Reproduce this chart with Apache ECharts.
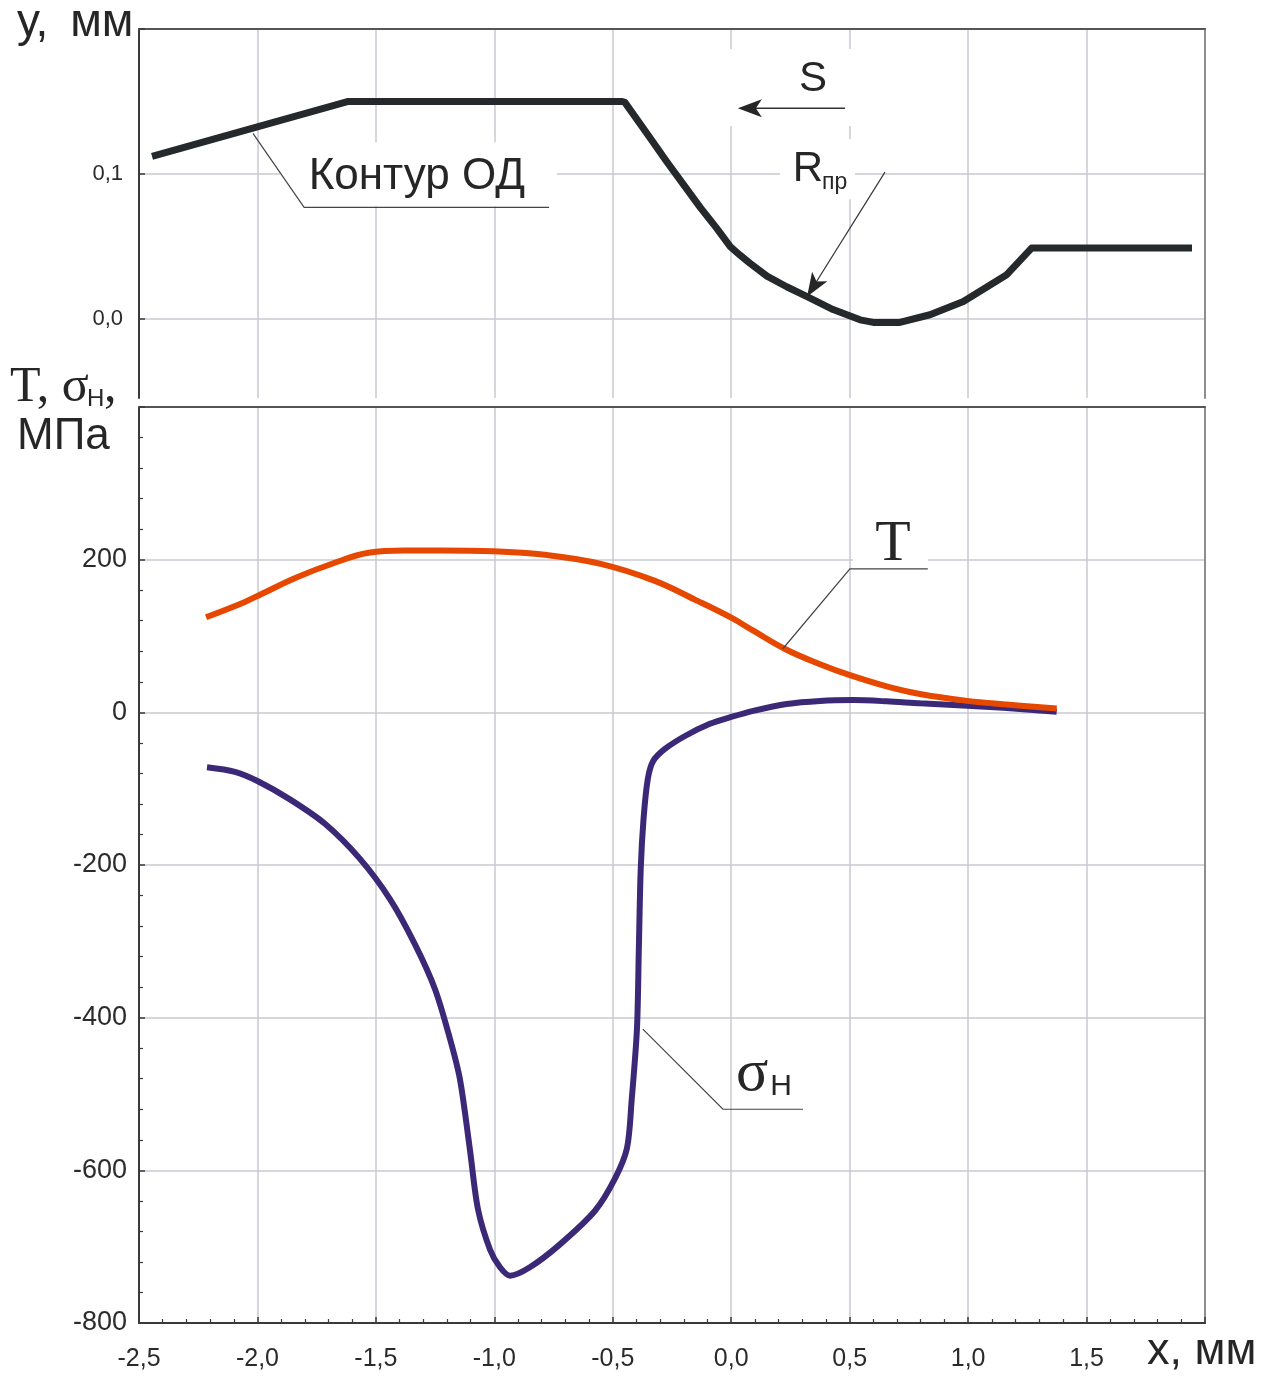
<!DOCTYPE html>
<html><head><meta charset="utf-8">
<script src="https://cdn.jsdelivr.net/npm/echarts@6/dist/echarts.min.js"></script>
<style>html,body{margin:0;padding:0;background:#fff}#c{width:1277px;height:1376px}</style>
</head><body><div id="c"></div>
<script>
// ---- data ----
const xTickValues = [-2.5, -2.0, -1.5, -1.0, -0.5, 0.0, 0.5, 1.0, 1.5, 2.0];
const yTopTickValues = [0, 0.1, 0.2];
const yTopLabelValues = [0, 0.1];
const yBottomLabelValues = [-800, -600, -400, -200, 0, 200];

const contourX = [-2.445, -1.62, -0.46, -0.449, -0.343, -0.272, -0.131, -0.061, -0.004, 0.038, 0.079, 0.151, 0.234, 0.318, 0.43, 0.544, 0.60, 0.712, 0.839, 0.98, 1.163, 1.268, 1.945];
const contourY = [0.1122, 0.150, 0.150, 0.1494, 0.1250, 0.1085, 0.0770, 0.0625, 0.0500, 0.0440, 0.0385, 0.0296, 0.0223, 0.0156, 0.0066, -0.0005, -0.0023, -0.0023, 0.003, 0.0122, 0.0306, 0.049, 0.049];

const tX = [-2.217, -2.058, -1.983, -1.833, -1.682, -1.531, -1.38, -1.229, -1.003, -0.777, -0.551, -0.325, -0.145, 0.0, 0.093, 0.227, 0.375, 0.498, 0.656, 0.797, 0.997, 1.149, 1.374];
const tY = [124.6, 144, 155, 177, 195, 209, 212, 212, 211, 206, 194.5, 172.6, 146.4, 124, 107, 83, 63, 49, 34, 24, 15, 10.5, 5];

const sX = [-2.213, -2.095, -2.0, -1.863, -1.715, -1.567, -1.44, -1.335, -1.25, -1.187, -1.145, -1.103, -1.069, -1.018, -0.976, -0.934, -0.85, -0.723, -0.575, -0.491, -0.44, -0.42, -0.398, -0.39, -0.382, -0.37, -0.352, -0.33, -0.28, -0.195, -0.09, 0.0, 0.093, 0.234, 0.375, 0.515, 0.656, 0.797, 0.997, 1.149, 1.374];
const sY = [-72, -78, -90, -114, -146, -192, -245, -304, -363, -428, -481, -573, -651, -704, -727, -738, -727, -697, -653, -611, -571, -507, -415, -310, -205, -139, -87, -64, -48, -31, -15, -6, 2, 11, 15, 16, 14.4, 11.8, 8.7, 6, 0.8];

const zip = (a, b) => a.map((v, i) => [v, b[i]]);
const comma = v => (Math.round(v * 10) / 10).toFixed(1).replace('.', ',');

const SANS = 'Liberation Sans';
const SERIF = 'Liberation Serif';
const GRID_C = '#c9c9d2';
const AXIS_C = '#3a3a3a';
const BORDER_C = '#8e8e8e';

const chart = echarts.init(document.getElementById('c'), null, {renderer: 'canvas'});

const splitLine = {show: true, lineStyle: {color: GRID_C, width: 1.5}};
const xBase = {type: 'value', min: -2.5, max: 2.0, interval: 0.5};

chart.setOption({
  animation: false,
  backgroundColor: '#fff',
  grid: [
    {left: 139, right: 72, top: 29, height: 369},
    {left: 139, right: 72, top: 407, height: 916}
  ],
  xAxis: [
    Object.assign({}, xBase, {gridIndex: 0, position: 'bottom', axisLine: {show: false}, axisTick: {show: false}, axisLabel: {show: false}, splitLine: splitLine}),
    Object.assign({}, xBase, {gridIndex: 0, position: 'top', axisLine: {show: true, onZero: false, lineStyle: {color: '#555', width: 2}}, axisTick: {show: false}, axisLabel: {show: false}, splitLine: {show: false}}),
    Object.assign({}, xBase, {gridIndex: 1, position: 'bottom',
      axisLine: {show: true, onZero: false, lineStyle: {color: AXIS_C, width: 2}},
      axisTick: {show: true, inside: true, length: 6, lineStyle: {color: AXIS_C, width: 1.5}},
      minorTick: {show: true, splitNumber: 5, length: 4, lineStyle: {color: AXIS_C, width: 1.2}},
      axisLabel: {show: true, margin: 24, fontFamily: SANS, fontSize: 25, color: '#2b2b2b', formatter: v => comma(v),
        customValues: xTickValues.slice(0, 9)},
      splitLine: splitLine}),
    Object.assign({}, xBase, {gridIndex: 1, position: 'top', axisLine: {show: true, onZero: false, lineStyle: {color: '#555', width: 2}}, axisTick: {show: false}, axisLabel: {show: false}, splitLine: {show: false}})
  ],
  yAxis: [
    {type: 'value', gridIndex: 0, min: -0.0544, max: 0.2, position: 'left',
      axisLine: {show: true, onZero: false, lineStyle: {color: AXIS_C, width: 2}},
      axisTick: {show: true, inside: true, length: 6, customValues: yTopTickValues, lineStyle: {color: AXIS_C, width: 1.5}},
      axisLabel: {show: true, margin: 16, fontFamily: SANS, fontSize: 22, color: '#2b2b2b', customValues: yTopLabelValues, formatter: v => comma(v)},
      splitLine: splitLine},
    {type: 'value', gridIndex: 0, min: -0.0544, max: 0.2, position: 'right',
      axisLine: {show: true, onZero: false, lineStyle: {color: BORDER_C, width: 2}}, axisTick: {show: false}, axisLabel: {show: false}, splitLine: {show: false}},
    {type: 'value', gridIndex: 1, min: -800, max: 400, interval: 200, position: 'left',
      axisLine: {show: true, onZero: false, lineStyle: {color: AXIS_C, width: 2}},
      axisTick: {show: true, inside: true, length: 6, lineStyle: {color: AXIS_C, width: 1.5}},
      minorTick: {show: true, splitNumber: 5, length: 4, lineStyle: {color: AXIS_C, width: 1.2}},
      axisLabel: {show: true, margin: 12, fontFamily: SANS, fontSize: 27, color: '#2b2b2b', formatter: v => (yBottomLabelValues.indexOf(v) >= 0 ? String(v) : '')},
      splitLine: splitLine},
    {type: 'value', gridIndex: 1, min: -800, max: 400, interval: 200, position: 'right',
      axisLine: {show: true, onZero: false, lineStyle: {color: BORDER_C, width: 2}}, axisTick: {show: false}, axisLabel: {show: false}, splitLine: {show: false}}
  ],
  series: [
    {name: 'Контур ОД', type: 'line', xAxisIndex: 0, yAxisIndex: 0, data: zip(contourX, contourY), showSymbol: false, symbol: 'none', smooth: false,
      lineStyle: {color: '#25292c', width: 7, join: 'round', cap: 'butt'}, z: 5},
    {name: 'σН', type: 'line', xAxisIndex: 2, yAxisIndex: 2, data: zip(sX, sY), showSymbol: false, symbol: 'none', smooth: 0.3,
      lineStyle: {color: '#3b2877', width: 6}, z: 5},
    {name: 'T', type: 'line', xAxisIndex: 2, yAxisIndex: 2, data: zip(tX, tY), showSymbol: false, symbol: 'none', smooth: 0.4,
      lineStyle: {color: '#e64800', width: 6}, z: 6}
  ]
});

// ---- annotations (anchored in data coordinates) ----
const p0 = (x, y) => chart.convertToPixel({xAxisIndex: 0, yAxisIndex: 0}, [x, y]);
const p1 = (x, y) => chart.convertToPixel({xAxisIndex: 2, yAxisIndex: 2}, [x, y]);

function whiteBox(c, l, r, t, b) {
  return {type: 'rect', z: 1, shape: {x: c[0] + l, y: c[1] + t, width: r - l, height: b - t}, style: {fill: '#fff'}};
}
function poly(pts, w, color) {
  return {type: 'polyline', z: 7, shape: {points: pts}, style: {stroke: color || '#333', lineWidth: w || 1, fill: null}};
}
function txt(c, text, font, size, align, vAlign, color, z) {
  return {type: 'text', z: z || 8, x: c[0], y: c[1], style: {text: text, fontFamily: font, fontSize: size, fill: color || '#262626', align: align || 'center', verticalAlign: vAlign || 'middle'}};
}
function arrowHead(tip, from, len, half) {
  const dx = tip[0] - from[0], dy = tip[1] - from[1];
  const d = Math.hypot(dx, dy), ux = dx / d, uy = dy / d;
  const bx = tip[0] - ux * len, by = tip[1] - uy * len;
  return {type: 'polygon', z: 7, shape: {points: [tip, [bx - uy * half, by + ux * half], [tip[0] - ux * len * 0.75, tip[1] - uy * len * 0.75], [bx + uy * half, by - ux * half]]}, style: {fill: '#262626'}};
}

const g = [];
// Контур ОД
const kText = p0(-1.327, 0.0984);
g.push(whiteBox(kText, -137, 140, -34, 30));
g.push(poly([p0(-2.019, 0.128), p0(-1.803, 0.077), p0(-0.769, 0.077)], 1.2, '#444'));
g.push(txt(kText, 'Контур ОД', SANS, 44));
// S arrow
const sText = p0(0.345, 0.1669);
g.push(whiteBox(sText, -88, 43, -28, 49));
g.push(txt([sText[0], sText[1] + 2], 'S', SANS, 42));
const sa = p0(0.480, 0.1454), sb = p0(0.028, 0.1454);
g.push(poly([sa, [sb[0] + 10, sb[1]]], 1.5, '#333'));
g.push(arrowHead(sb, sa, 24, 9));
// R_pr
const rText = p0(0.324, 0.1033);
g.push(whiteBox(rText, -28, 47, -30, 30));
g.push(txt(rText, 'R', SANS, 42));
g.push(txt([rText[0] + 14, rText[1] + 25], 'пр', SANS, 23, 'left', 'bottom'));
const ra = p0(0.649, 0.1013), rb = p0(0.320, 0.0154);
g.push(poly([ra, rb], 1.2, '#333'));
g.push(arrowHead(rb, ra, 24, 9));
// T label
const tText = p1(0.683, 219.4);
g.push(whiteBox(tText, -40, 35, -30, 22));
g.push(poly([p1(0.218, 83.3), p1(0.501, 188), p1(0.830, 188)], 1.2, '#444'));
g.push(txt(tText, 'T', SERIF, 58));
// sigma_H label
const sgText = p1(0.088, -474);
g.push(whiteBox(sgText, -17, 51, -28, 33));
g.push(poly([p1(-0.373, -415), p1(-0.035, -520), p1(0.303, -520)], 1.2, '#444'));
g.push(txt(sgText, 'σ', SERIF, 60));
g.push(txt(p1(0.21, -491), 'Н', SANS, 30));

// axis titles
function title(x, y, text, font, size) {
  return {type: 'text', z: 8, x: x, y: y, style: {text: text, fontFamily: font, fontSize: size, fill: '#262626', align: 'left', verticalAlign: 'top'}};
}
g.push(title(17, 0, 'у,\u2009 мм', SANS, 46));
g.push(title(10, 363, 'T, σ', SERIF, 50));
g.push(title(87, 387, 'Н', SANS, 24));
g.push(title(104, 363, ',', SERIF, 50));
g.push(title(17, 415, 'МПа', SANS, 44));
g.push(title(1147, 1329, 'х, мм', SANS, 45));

chart.setOption({graphic: g});
</script>
</body></html>
